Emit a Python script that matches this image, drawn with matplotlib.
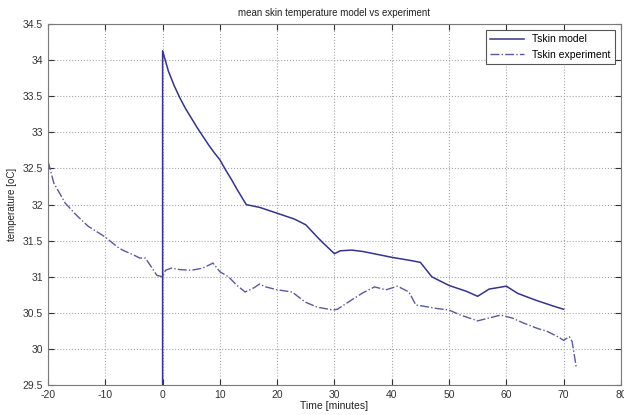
import matplotlib
matplotlib.use('Agg')
import matplotlib.pyplot as plt

# model curve (starts from bottom at t=0, then jumps to peak)
t_model = [0, 0, 1, 2, 3, 4, 5, 6, 7, 8, 9, 10, 11, 12, 13, 14.6, 17, 20, 23,
           25, 27, 28, 30, 31, 33, 35, 40, 43, 45, 47, 50, 53, 55, 57, 60, 62,
           65, 68, 70]
T_model = [29.5, 34.13, 33.85, 33.65, 33.48, 33.33, 33.2, 33.07, 32.95, 32.83,
           32.72, 32.62, 32.48, 32.35, 32.21, 32.0, 31.96, 31.88, 31.8,
           31.72, 31.55, 31.47, 31.32, 31.36, 31.37, 31.35, 31.27, 31.23, 31.2,
           31.0, 30.88, 30.8, 30.73, 30.83, 30.87, 30.77, 30.68, 30.6, 30.55]

# experiment curve
t_exp = [-20, -19, -17, -15, -13, -10, -8, -7, -5, -4, -3, -1, 0, 0.5, 1.5, 3,
         5, 7, 8.8, 10, 11.5, 13, 14.4, 16, 16.9, 18, 20, 22.6, 24.9, 27, 29.7,
         30.5, 33, 35, 37, 38, 39, 41, 43, 44.2, 45, 48, 50, 52, 55, 57, 59,
         61, 63, 65.6, 67, 69, 70, 71, 71.5, 72.2]
T_exp = [32.6, 32.3, 32.02, 31.85, 31.7, 31.55, 31.42, 31.37, 31.3, 31.26,
         31.26, 31.02, 31.0, 31.09, 31.12, 31.1, 31.09, 31.12, 31.19, 31.07,
         31.0, 30.88, 30.79, 30.85, 30.9, 30.86, 30.82, 30.79, 30.65, 30.58,
         30.54, 30.55, 30.68, 30.78, 30.86, 30.84, 30.82, 30.87, 30.79, 30.61,
         30.6, 30.56, 30.54, 30.47, 30.39, 30.43, 30.47, 30.43, 30.36, 30.28,
         30.25, 30.17, 30.12, 30.17, 30.1, 29.75]

xticks = list(range(-20, 81, 10))
yticks = [29.5, 30, 30.5, 31, 31.5, 32, 32.5, 33, 33.5, 34, 34.5]

plt.rcParams['font.family'] = ['Liberation Sans', 'DejaVu Sans']
plt.rcParams['axes.unicode_minus'] = False

fig = plt.figure(figsize=(6.24, 4.15), dpi=100)
ax = fig.add_axes([0.077, 0.072, 0.918, 0.870])

ax.plot(t_model, T_model, color='#34348a', lw=1.1, label='Tskin model')
ax.plot(t_exp, T_exp, color='#5a5a9c', lw=1.0, ls='-.', label='Tskin experiment')

ax.set_xlim(-20, 80)
ax.set_ylim(29.5, 34.5)
ax.set_xticks(xticks)
ax.set_yticks(yticks)
ax.set_yticklabels([('%g' % v) for v in yticks])
ax.grid(True, color='#a8a8a8', ls=':', lw=0.8)
ax.tick_params(direction='in', top=True, right=True, labelsize=7.5,
               colors='#333333', length=4)
for s in ax.spines.values():
    s.set_color('#7a7a7a')

ax.set_title('mean skin temperature model vs experiment', fontsize=7, pad=6,
             color='#222222')
ax.set_xlabel('Time [minutes]', fontsize=7.5, labelpad=1, color='#222222')
ax.set_ylabel('temperature [oC]', fontsize=7, labelpad=4, color='#222222')

leg = ax.legend(loc='upper right', fontsize=7.5, handlelength=3.2,
                fancybox=False, framealpha=1, borderaxespad=0.6)
leg.get_frame().set_edgecolor('#555555')
leg.get_frame().set_linewidth(0.8)

fig.savefig('out.png', dpi=100)
